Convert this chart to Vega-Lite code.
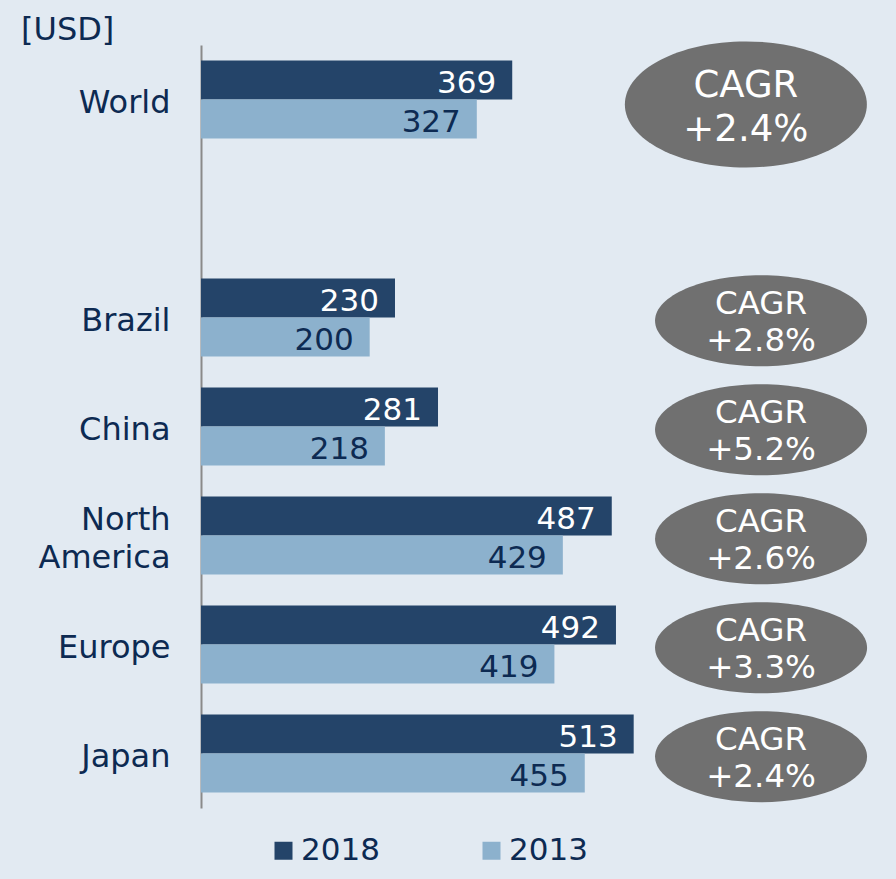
{
  "$schema": "https://vega.github.io/schema/vega-lite/v6.json",
  "width": 695,
  "height": 763,
  "autosize": {"type": "none"},
  "padding": {"left": 201, "top": 45, "right": 0, "bottom": 71},
  "background": "#e2eaf2",
  "config": {"view": {"stroke": null}, "font": "DejaVu Sans"},
  "title": {"text": "[USD]", "anchor": "start", "frame": "group", "dx": -180, "dy": 33, "offset": 2, "baseline": "alphabetic", "fontSize": 32, "fontWeight": "normal", "color": "#0d2a52", "font": "DejaVu Sans"},
  "datasets": {
    "bars": [
      {"region": "World", "year": "2018", "value": 369},
      {"region": "World", "year": "2013", "value": 327},
      {"region": "Brazil", "year": "2018", "value": 230},
      {"region": "Brazil", "year": "2013", "value": 200},
      {"region": "China", "year": "2018", "value": 281},
      {"region": "China", "year": "2013", "value": 218},
      {"region": "North America", "year": "2018", "value": 487},
      {"region": "North America", "year": "2013", "value": 429},
      {"region": "Europe", "year": "2018", "value": 492},
      {"region": "Europe", "year": "2013", "value": 419},
      {"region": "Japan", "year": "2018", "value": 513},
      {"region": "Japan", "year": "2013", "value": 455}
    ],
    "cagr": [
      {"region": "World", "cagr": "+2.4%"},
      {"region": "Brazil", "cagr": "+2.8%"},
      {"region": "China", "cagr": "+5.2%"},
      {"region": "North America", "cagr": "+2.6%"},
      {"region": "Europe", "cagr": "+3.3%"},
      {"region": "Japan", "cagr": "+2.4%"}
    ]
  },
  "layer": [
    {
      "data": {"name": "bars"},
      "mark": {"type": "bar"},
      "encoding": {
        "y": {
          "field": "region", "type": "nominal",
          "scale": {"domain": ["World", "_gap", "Brazil", "China", "North America", "Europe", "Japan"], "paddingInner": 0.284, "paddingOuter": 0.142},
          "axis": {"title": null, "domainColor": "#8a8a8a", "domainWidth": 2, "ticks": false, "tickSize": 0, "labelPadding": 31, "labelFontSize": 32, "labelColor": "#0d2a52", "labelFont": "DejaVu Sans", "labelLineHeight": 38, "labelLimit": 300,
            "labelOffset": {"condition": {"test": "datum.value == 'North America'", "value": -16}, "value": 3},
            "labelExpr": "datum.value == '_gap' ? '' : (datum.value == 'North America' ? ['North', 'America'] : datum.value)"}
        },
        "yOffset": {"field": "year", "type": "nominal", "scale": {"domain": ["2018", "2013"], "paddingInner": 0, "paddingOuter": 0}},
        "x": {"field": "value", "type": "quantitative", "scale": {"domain": [0, 824], "nice": false, "zero": true}, "axis": null},
        "color": {
          "field": "year", "type": "nominal",
          "scale": {"domain": ["2018", "2013"], "range": ["#244469", "#8cb1cd"]},
          "legend": {"orient": "none", "legendX": 67, "legendY": 790, "direction": "horizontal", "title": null, "symbolType": "square", "symbolSize": 324, "symbolStrokeWidth": 0, "labelFontSize": 31, "labelColor": "#0d2a52", "labelFont": "DejaVu Sans", "columnPadding": 96, "labelOffset": 2}
        }
      }
    },
    {
      "data": {"name": "bars"},
      "mark": {"type": "text", "align": "right", "baseline": "alphabetic", "dx": -16, "dy": 13, "fontSize": 31, "font": "DejaVu Sans"},
      "encoding": {
        "y": {"field": "region", "type": "nominal"},
        "yOffset": {"field": "year", "type": "nominal"},
        "x": {"field": "value", "type": "quantitative"},
        "text": {"field": "value", "type": "quantitative"},
        "color": {"condition": {"test": "datum.year == '2018'", "value": "#ffffff"}, "value": "#0d2a52"}
      }
    },
    {
      "data": {"name": "cagr"},
      "transform": [{"filter": "datum.region == 'World'"}],
      "mark": {"type": "point", "filled": true, "fill": "#707070", "opacity": 1, "strokeWidth": 0, "size": 58564, "shape": "M-1,0.041A1,0.521 0 1,1 1,0.041A1,0.521 0 1,1 -1,0.041Z"},
      "encoding": {
        "y": {"field": "region", "type": "nominal"},
        "x": {"datum": 646, "type": "quantitative"}
      }
    },
    {
      "data": {"name": "cagr"},
      "transform": [{"filter": "datum.region != 'World'"}],
      "mark": {"type": "point", "filled": true, "fill": "#707070", "opacity": 1, "strokeWidth": 0, "size": 44944, "shape": "M-1,0.03A1,0.429 0 1,1 1,0.03A1,0.429 0 1,1 -1,0.03Z"},
      "encoding": {
        "y": {"field": "region", "type": "nominal"},
        "x": {"datum": 664, "type": "quantitative"}
      }
    },
    {
      "data": {"name": "cagr"},
      "transform": [{"filter": "datum.region == 'World'"}],
      "mark": {"type": "text", "align": "center", "baseline": "alphabetic", "dy": -3, "fontSize": 37, "color": "#ffffff", "font": "DejaVu Sans", "text": "CAGR"},
      "encoding": {
        "y": {"field": "region", "type": "nominal"},
        "x": {"datum": 646, "type": "quantitative"}
      }
    },
    {
      "data": {"name": "cagr"},
      "transform": [{"filter": "datum.region == 'World'"}],
      "mark": {"type": "text", "align": "center", "baseline": "alphabetic", "dy": 41, "fontSize": 37, "color": "#ffffff", "font": "DejaVu Sans"},
      "encoding": {
        "y": {"field": "region", "type": "nominal"},
        "x": {"datum": 646, "type": "quantitative"},
        "text": {"field": "cagr"}
      }
    },
    {
      "data": {"name": "cagr"},
      "transform": [{"filter": "datum.region != 'World'"}],
      "mark": {"type": "text", "align": "center", "baseline": "alphabetic", "dy": -4, "fontSize": 32.5, "color": "#ffffff", "font": "DejaVu Sans", "text": "CAGR"},
      "encoding": {
        "y": {"field": "region", "type": "nominal"},
        "x": {"datum": 664, "type": "quantitative"}
      }
    },
    {
      "data": {"name": "cagr"},
      "transform": [{"filter": "datum.region != 'World'"}],
      "mark": {"type": "text", "align": "center", "baseline": "alphabetic", "dy": 33, "fontSize": 32.5, "color": "#ffffff", "font": "DejaVu Sans"},
      "encoding": {
        "y": {"field": "region", "type": "nominal"},
        "x": {"datum": 664, "type": "quantitative"},
        "text": {"field": "cagr"}
      }
    }
  ]
}
